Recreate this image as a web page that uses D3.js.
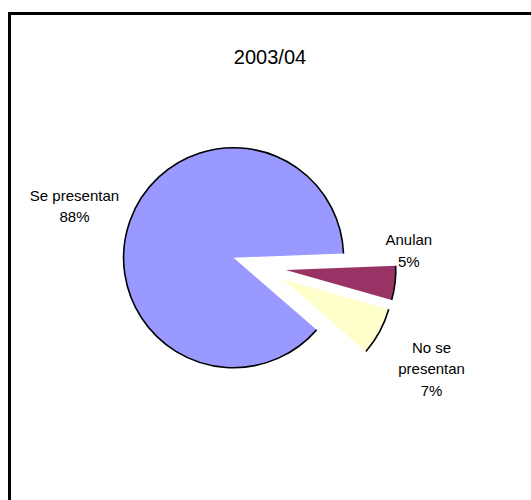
<!DOCTYPE html>
<html>
<head>
<meta charset="utf-8">
<script src="https://cdn.jsdelivr.net/npm/d3@7/dist/d3.min.js"></script>
<style>
  html, body { margin: 0; padding: 0; background: #fff; }
  svg { display: block; }
  text { font-family: "Liberation Sans", Arial, sans-serif; fill: #000; }
</style>
</head>
<body>
<svg id="chart" width="531" height="500"></svg>
<script>
// Data
const title = "2003/04";
const categories = ["Se presentan", "Anulan", "No se presentan"];
const values = [88, 5, 7];
const labelLines = [["Se presentan"], ["Anulan"], ["No se", "presentan"]];
const colors = ["#9999FF", "#993366", "#FFFFCC"];

// Layout
const W = 531, H = 500;
const cx = 260, cy = 267, radius = 110;
const explode = [28, 26, 26];
const labelRadius = [167, 120, 172];
const labelNudge = [[-1.6, 4.2], [3.9, -33.2], [-2.6, 7.9]];
const lineGap = 21.5;
const startDeg = 131;

const svg = d3.select("#chart");

// Outer frame
svg.append("rect")
  .attr("x", 9.5).attr("y", 13.5)
  .attr("width", W).attr("height", H)
  .attr("fill", "#fff")
  .attr("stroke", "#000")
  .attr("stroke-width", 3);

// Title
svg.append("text")
  .attr("x", 270).attr("y", 64)
  .attr("text-anchor", "middle")
  .attr("font-size", 20)
  .text(title);

const start = startDeg * Math.PI / 180;
const pie = d3.pie().sort(null).startAngle(start).endAngle(start + 2 * Math.PI);
const arcs = pie(values);
const total = d3.sum(values);

const arcFill = d3.arc().innerRadius(0).outerRadius(radius);
const arcEdge = d3.arc().innerRadius(radius).outerRadius(radius);

const g = svg.append("g").attr("transform", `translate(${cx},${cy})`);

arcs.forEach((a, i) => {
  const mid = (a.startAngle + a.endAngle) / 2;
  const ux = Math.sin(mid), uy = -Math.cos(mid);
  const ox = ux * explode[i], oy = uy * explode[i];
  const slice = g.append("g").attr("transform", `translate(${ox},${oy})`);

  slice.append("path")
    .attr("d", arcFill(a))
    .attr("fill", colors[i]);

  // black rim along the outer arc only
  slice.append("path")
    .attr("d", arcEdge(a))
    .attr("fill", "none")
    .attr("stroke", "#000")
    .attr("stroke-width", 1.6);

  // data label: category and percentage
  const pct = Math.round(values[i] / total * 100) + "%";
  const lines = labelLines[i].concat([pct]);
  const lx = ox + ux * labelRadius[i] + labelNudge[i][0];
  const ly = oy + uy * labelRadius[i] + labelNudge[i][1];
  const t = g.append("text")
    .attr("text-anchor", "middle")
    .attr("font-size", 15);
  lines.forEach((ln, k) => {
    t.append("tspan")
      .attr("x", lx)
      .attr("y", ly + (k - (lines.length - 1) / 2) * lineGap + 5)
      .text(ln);
  });
});
</script>
</body>
</html>
